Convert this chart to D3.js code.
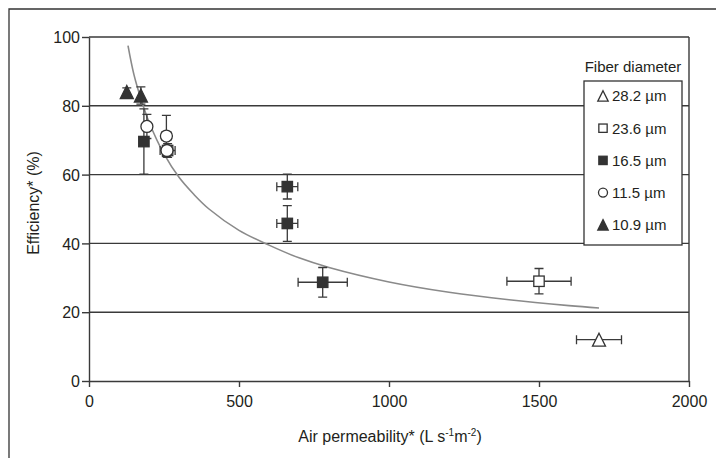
<!DOCTYPE html>
<html>
<head>
<meta charset="utf-8">
<script src="https://cdn.jsdelivr.net/npm/d3@7"></script>
<style>
    body { margin: 0; background: #fff; }
    svg { display: block; font-family: "Liberation Sans", Arial, sans-serif; }
    .axis path, .axis line { stroke: #3a3a3a; stroke-width: 1.4; }
    .axis text { fill: #231f20; font-size: 16px; }
</style>
</head>
<body>
<div id="content"></div>
<script>
// Axis ticks
var xTicks = [0, 500, 1000, 1500, 2000];
var yTicks = [0, 20, 40, 60, 80, 100];
var gridValues = [20, 40, 60, 80, 100];

// Fitted curve
var fitX = [130, 150, 175, 200, 250, 300, 350, 400, 500, 600, 700, 800, 1000, 1200, 1400, 1600, 1700];
var fitY = [97.5, 89, 81.5, 75.3, 66, 59.2, 54.2, 50, 43.8, 39.5, 35.8, 33, 28.8, 25.8, 23.6, 21.9, 21.2];

// Series, one per fibre diameter
var legendLabels = ["28.2 \u00b5m", "23.6 \u00b5m", "16.5 \u00b5m", "11.5 \u00b5m", "10.9 \u00b5m"];
var legendSymbols = ["triangleOpen", "squareOpen", "squareFilled", "circleOpen", "triangleFilled"];

var s282X = [1700], s282Y = [12], s282Ex = [75], s282Ey = [0];
var s236X = [1500, 262], s236Y = [29, 67], s236Ex = [107, 25], s236Ey = [3.7, 2];
var s165X = [183, 661, 661, 779], s165Y = [69.6, 56.5, 45.8, 28.7], s165Ex = [0, 35, 35, 82], s165Ey = [9.5, 3.6, 5.2, 4.3];
var s115X = [193, 258, 260], s115Y = [74, 71.2, 67], s115Ex = [0, 15, 0], s115Ey = [3.5, 6, 0];
var s109X = [126, 173], s109Y = [84, 83], s109Ex = [0, 0], s109Ey = [1.2, 2.5];

var chart = (function () {

    "use strict";

    var width = 716,
        height = 458,
        margin = {left: 89, right: 24, top: 37, bottom: 77},
        ink = "#333";

    function makeSeries(sym, xs, ys, exs, eys) {
        return xs.map(function (x, i) {
            return {sym: sym, x: x, y: ys[i], ex: exs[i], ey: eys[i]};
        });
    }

    function drawSymbol(g, sym, big) {
        var s = big ? 1 : 0.8;
        var fillFor = function (name) { return /Open/.test(name) ? "#fff" : ink; };
        if (/triangle/.test(sym)) {
            var w = 6.5 * s, h = 6.5 * s;
            g.append("path")
                .attr("d", "M0," + (-h) + "L" + w + "," + h + "L" + (-w) + "," + h + "Z")
                .attr("fill", fillFor(sym)).attr("stroke", ink).attr("stroke-width", 1.3);
        } else if (/square/.test(sym)) {
            var a = 5.2 * s;
            g.append("rect")
                .attr("x", -a).attr("y", -a).attr("width", 2 * a).attr("height", 2 * a)
                .attr("fill", fillFor(sym)).attr("stroke", ink).attr("stroke-width", 1.3);
        } else {
            g.append("circle")
                .attr("r", big ? 6 : 4.5)
                .attr("fill", "#fff").attr("stroke", ink).attr("stroke-width", 1.3);
        }
    }

    function render() {
        var svg = d3.select("#content").append("svg")
            .attr("width", width)
            .attr("height", height);

        // figure frame
        svg.append("path")
            .attr("d", "M9," + height + "V9H" + width)
            .attr("fill", "none").attr("stroke", ink).attr("stroke-width", 1.3);

        var x = d3.scaleLinear().domain([0, 2000]).range([margin.left, width - margin.right - 3]),
            y = d3.scaleLinear().domain([0, 100]).range([height - margin.bottom, margin.top]);

        // grid lines
        svg.append("g").selectAll("line")
            .data(gridValues)
            .enter().append("line")
            .attr("x1", x(0)).attr("x2", x(2000))
            .attr("y1", function (d) { return y(d); })
            .attr("y2", function (d) { return y(d); })
            .attr("stroke", "#3a3a3a").attr("stroke-width", 1.4);

        // right edge
        svg.append("line")
            .attr("x1", x(2000)).attr("x2", x(2000))
            .attr("y1", y(0)).attr("y2", y(100))
            .attr("stroke", "#3a3a3a").attr("stroke-width", 1.4);

        svg.append("g")
            .attr("class", "axis")
            .attr("transform", "translate(0," + y(0) + ")")
            .call(d3.axisBottom(x).tickValues(xTicks).tickFormat(d3.format("d"))
                .tickSize(6).tickSizeOuter(0).tickPadding(9));

        svg.append("g")
            .attr("class", "axis")
            .attr("transform", "translate(" + x(0) + ",0)")
            .call(d3.axisLeft(y).tickValues(yTicks).tickSize(7).tickSizeOuter(0).tickPadding(2))
            .selectAll("text").attr("dy", "0.36em");

        // axis titles
        var xt = svg.append("text")
            .attr("x", 390).attr("y", 442)
            .attr("text-anchor", "middle")
            .attr("fill", "#231f20").attr("font-size", 16);
        xt.append("tspan").text("Air permeability* (L s");
        xt.append("tspan").attr("font-size", 10).attr("dy", -6).text("-1");
        xt.append("tspan").attr("dy", 6).text("m");
        xt.append("tspan").attr("font-size", 10).attr("dy", -6).text("-2");
        xt.append("tspan").attr("dy", 6).text(")");

        svg.append("text")
            .attr("transform", "translate(39,203) rotate(-90)")
            .attr("text-anchor", "middle")
            .attr("fill", "#231f20").attr("font-size", 16)
            .text("Efficiency* (%)");

        // fitted curve
        var fit = fitX.map(function (d, i) { return [d, fitY[i]]; });
        svg.append("path")
            .datum(fit)
            .attr("d", d3.line()
                .x(function (d) { return x(d[0]); })
                .y(function (d) { return y(d[1]); })
                .curve(d3.curveCatmullRom))
            .attr("fill", "none").attr("stroke", "#8a8a8a").attr("stroke-width", 1.6);

        var points = [].concat(
            makeSeries("triangleOpen", s282X, s282Y, s282Ex, s282Ey),
            makeSeries("squareOpen", s236X, s236Y, s236Ex, s236Ey),
            makeSeries("squareFilled", s165X, s165Y, s165Ex, s165Ey),
            makeSeries("circleOpen", s115X, s115Y, s115Ex, s115Ey),
            makeSeries("triangleFilled", s109X, s109Y, s109Ex, s109Ey)
        );

        // error bars
        var eb = svg.append("g").attr("stroke", "#3a3a3a").attr("stroke-width", 1.3).attr("fill", "none");
        points.forEach(function (p) {
            var cx = x(p.x), cy = y(p.y), cap = 4.5;
            if (p.ey > 0) {
                var y1 = y(p.y + p.ey), y2 = y(p.y - p.ey);
                eb.append("path").attr("d",
                    "M" + cx + "," + y1 + "V" + y2 +
                    "M" + (cx - cap) + "," + y1 + "H" + (cx + cap) +
                    "M" + (cx - cap) + "," + y2 + "H" + (cx + cap));
            }
            if (p.ex > 0) {
                var x1 = x(p.x - p.ex), x2 = x(p.x + p.ex);
                eb.append("path").attr("d",
                    "M" + x1 + "," + cy + "H" + x2 +
                    "M" + x1 + "," + (cy - cap) + "V" + (cy + cap) +
                    "M" + x2 + "," + (cy - cap) + "V" + (cy + cap));
            }
        });

        // markers
        points.forEach(function (p) {
            var g = svg.append("g").attr("transform", "translate(" + x(p.x) + "," + y(p.y) + ")");
            drawSymbol(g, p.sym, true);
        });

        // legend
        svg.append("text")
            .attr("x", 633).attr("y", 72)
            .attr("text-anchor", "middle")
            .attr("fill", "#231f20").attr("font-size", 15)
            .text("Fiber diameter");

        svg.append("rect")
            .attr("x", 584).attr("y", 81).attr("width", 98).attr("height", 164)
            .attr("fill", "#fff").attr("stroke", ink).attr("stroke-width", 1.3);

        var items = svg.append("g").selectAll("g")
            .data(legendLabels)
            .enter().append("g")
            .attr("transform", function (d, i) {
                return "translate(603," + (96 + i * 32.2) + ")";
            });

        items.each(function (d, i) {
            drawSymbol(d3.select(this), legendSymbols[i], false);
        });

        items.append("text")
            .attr("x", 9)
            .attr("dy", "0.36em")
            .attr("fill", "#231f20").attr("font-size", 15)
            .text(function (d) { return d; });
    }

    return {
        render: render
    };

}());

chart.render();
</script>
</body>
</html>
